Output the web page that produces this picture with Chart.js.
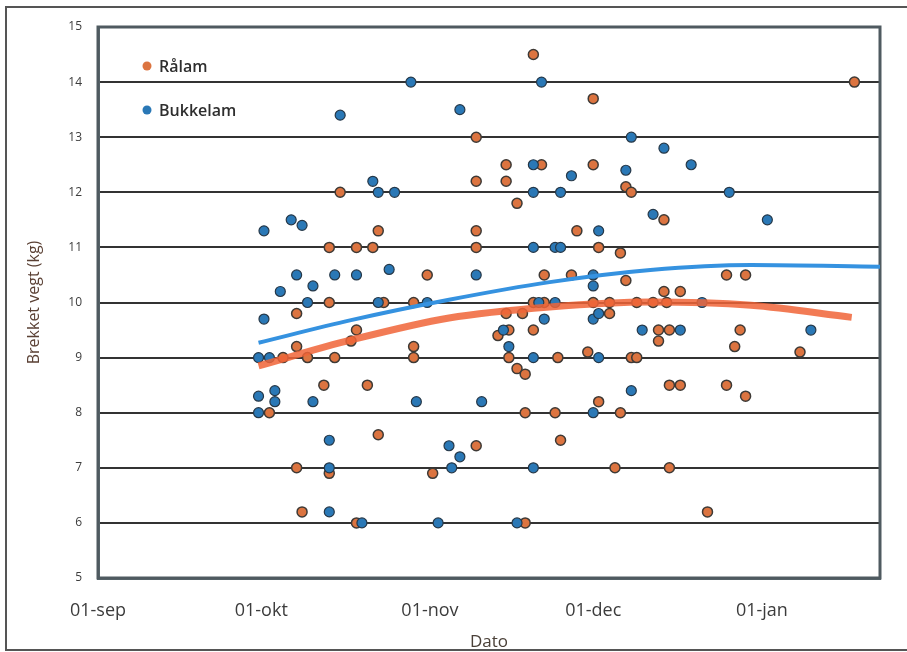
<!DOCTYPE html>
<html>
<head>
<meta charset="utf-8">
<script src="https://cdn.jsdelivr.net/npm/chart.js@4.4.1/dist/chart.umd.min.js"></script>
<style>
    body { margin: 0; background: #fff; }
    #wrap { position: relative; width: 907px; height: 652px; }
    #frame { position: absolute; left: 5px; top: 6px; right: -3px; bottom: 1px; border: 2px solid #555; }
    canvas { position: absolute; left: 0; top: 0; }
</style>
</head>
<body>
<div id="wrap">
    <div id="frame"></div>
    <canvas id="lamChart"></canvas>
</div>
<script>
// === DATA (x = days after 01-sep) ===
const ralamDays = [80, 91, 139, 69.5, 44.5, 75, 81.5, 91, 69.5, 75,
    97, 98, 77, 104, 51.5, 69.5, 88, 42.5, 47.5, 50.5,
    69.5, 92, 96, 60.5, 82, 87, 97, 115.5, 119, 104,
    107, 36.5, 42.5, 52.5, 58, 80, 82, 91, 94, 99,
    102, 104.5, 75, 78, 94, 47.5, 46.5, 36.5, 58, 34,
    38.5, 43.5, 58, 73.5, 75.5, 80, 75.5, 84.5, 90, 98,
    99, 103, 105, 103, 118, 117, 129, 77, 78.5, 41.5,
    49.5, 92, 105, 107, 115.5, 119, 31.5, 78.5, 84, 96,
    51.5, 69.5, 85, 36.5, 42.5, 61.5, 95, 105, 37.5, 112,
    47.5, 78.5];
const ralamKg = [14.5, 13.7, 14.0, 13.0, 12.0, 12.5, 12.5, 12.5, 12.2, 12.2,
    12.1, 12.0, 11.8, 11.5, 11.3, 11.3, 11.3, 11.0, 11.0, 11.0,
    11.0, 11.0, 10.9, 10.5, 10.5, 10.5, 10.4, 10.5, 10.5, 10.2,
    10.2, 9.8, 10.0, 10.0, 10.0, 10.0, 10.0, 10.0, 10.0, 10.0,
    10.0, 10.0, 9.8, 9.8, 9.8, 9.5, 9.3, 9.2, 9.2, 9.0,
    9.0, 9.0, 9.0, 9.4, 9.5, 9.5, 9.0, 9.0, 9.1, 9.0,
    9.0, 9.5, 9.5, 9.3, 9.5, 9.2, 9.1, 8.8, 8.7, 8.5,
    8.5, 8.2, 8.5, 8.5, 8.5, 8.3, 8.0, 8.0, 8.0, 8.0,
    7.6, 7.4, 7.5, 7.0, 6.9, 6.9, 7.0, 7.0, 6.2, 6.2,
    6.0, 6.0];

const bukkDays = [57.5, 81.5, 44.5, 66.5, 98, 104, 109, 50.5, 51.5, 54.5,
    80, 97, 87, 80, 85, 116, 35.5, 37.5, 30.5, 102,
    123, 92, 80, 84, 85, 36.5, 43.5, 47.5, 53.5, 39.5,
    33.5, 69.5, 91, 91, 38.5, 51.5, 60.5, 81, 84, 111,
    30.5, 82, 91, 92, 74.5, 75.5, 100, 107, 131, 29.5,
    31.5, 80, 92, 29.5, 32.5, 32.5, 39.5, 58.5, 70.5, 98,
    29.5, 91, 42.5, 64.5, 66.5, 65, 42.5, 80, 42.5, 48.5,
    62.5, 77];
const bukkKg = [14.0, 14.0, 13.4, 13.5, 13.0, 12.8, 12.5, 12.2, 12.0, 12.0,
    12.5, 12.4, 12.3, 12.0, 12.0, 12.0, 11.5, 11.4, 11.3, 11.6,
    11.5, 11.3, 11.0, 11.0, 11.0, 10.5, 10.5, 10.5, 10.6, 10.3,
    10.2, 10.5, 10.5, 10.3, 10.0, 10.0, 10.0, 10.0, 10.0, 10.0,
    9.7, 9.7, 9.7, 9.8, 9.5, 9.2, 9.5, 9.5, 9.5, 9.0,
    9.0, 9.0, 9.0, 8.3, 8.4, 8.2, 8.2, 8.2, 8.2, 8.4,
    8.0, 8.0, 7.5, 7.4, 7.2, 7.0, 7.0, 7.0, 6.2, 6.0,
    6.0, 6.0];

// trend lines
const ralamTrendDays = [29.5, 46.5, 64.5, 83, 101.5, 120, 138.5];
const ralamTrendKg = [8.85, 9.32, 9.72, 9.92, 10.01, 9.95, 9.73];
const bukkTrendDays = [29.5, 46.5, 64.5, 83, 101.5, 120, 143.7];
const bukkTrendKg = [9.27, 9.68, 10.05, 10.37, 10.59, 10.68, 10.65];

// axes
const tickDays = [0, 30, 61, 91, 122];
const tickLabels = ["01-sep", "01-okt", "01-nov", "01-dec", "01-jan"];
const yMin = 5, yMax = 15;

const ORANGE = "#dc7440";
const BLUE = "#2a78b6";
const FONT = "'Open Sans', 'DejaVu Sans', sans-serif";

function toPoints(xs, ys) {
    return xs.map((x, i) => ({ x: x, y: ys[i] }));
}

// plot frame + legend inside the plot
const framePlugin = {
    id: "framePlugin",
    beforeDatasetsDraw(chart) {
        const a = chart.chartArea;
        const c = chart.ctx;
        c.save();
        c.strokeStyle = "#4f5a60";
        c.lineWidth = 3;
        c.strokeRect(a.left, a.top, a.right - a.left, a.bottom - a.top);
        c.restore();
    },
    afterDraw(chart) {
        const c = chart.ctx;
        const items = [["Rålam", ORANGE, 66], ["Bukkelam", BLUE, 110]];
        c.save();
        items.forEach(([txt, col, y]) => {
            c.fillStyle = col;
            c.beginPath();
            c.arc(147, y, 4.5, 0, Math.PI * 2);
            c.fill();
            c.fillStyle = "#2e2e2e";
            c.font = "600 16px " + FONT;
            c.textBaseline = "middle";
            c.fillText(txt, 159, y + 1);
        });
        c.restore();
    }
};

const ctx = document.getElementById("lamChart").getContext("2d");

const chart = new Chart(ctx, {
    type: "scatter",
    data: {
        datasets: [{
            label: "Trend Bukkelam",
            type: "line",
            data: toPoints(bukkTrendDays, bukkTrendKg),
            borderColor: "#3592e0",
            borderWidth: 4,
            pointRadius: 0,
            cubicInterpolationMode: "monotone",
            fill: false
        }, {
            label: "Trend Rålam",
            type: "line",
            data: toPoints(ralamTrendDays, ralamTrendKg),
            borderColor: "rgba(240,100,55,0.85)",
            borderWidth: 7,
            pointRadius: 0,
            cubicInterpolationMode: "monotone",
            fill: false
        }, {
            label: "Bukkelam",
            data: toPoints(bukkDays, bukkKg),
            backgroundColor: BLUE,
            borderColor: "#263848",
            borderWidth: 1.2,
            pointRadius: 5
        }, {
            label: "Rålam",
            data: toPoints(ralamDays, ralamKg),
            backgroundColor: ORANGE,
            borderColor: "#3e3a36",
            borderWidth: 1.5,
            pointRadius: 5
        }]
    },
    options: {
        responsive: true,
        maintainAspectRatio: false,
        animation: false,
        layout: { padding: { left: 0, right: 27, top: 27, bottom: 0 } },
        plugins: {
            legend: { display: false },
            tooltip: { enabled: false }
        },
        scales: {
            x: {
                type: "linear",
                min: 0,
                max: 143.7,
                afterBuildTicks: (s) => { s.ticks = tickDays.map(v => ({ value: v })); },
                afterFit: (s) => { s.height = 74; },
                grid: { display: false },
                border: { display: true, color: "#5c6a70", width: 3 },
                ticks: {
                    padding: 14,
                    color: "#3c3c3c",
                    font: { family: FONT, size: 18 },
                    callback: (v) => {
                        const i = tickDays.indexOf(v);
                        return i >= 0 ? tickLabels[i] : "";
                    }
                },
                title: {
                    display: true,
                    text: "Dato",
                    color: "#4a4038",
                    font: { family: FONT, size: 17 },
                    padding: { top: 0, bottom: 0 }
                }
            },
            y: {
                min: yMin,
                max: yMax,
                afterFit: (s) => { s.width = 98; },
                grid: { color: "#333", lineWidth: 2, drawTicks: false },
                border: { display: true, color: "#5c6a70", width: 3 },
                ticks: {
                    stepSize: 1,
                    padding: 16,
                    color: "#3c3c3c",
                    font: { family: FONT, size: 12 }
                },
                title: {
                    display: true,
                    text: "Brekket vegt (kg)",
                    color: "#5a4034",
                    font: { family: FONT, size: 16 },
                    padding: { top: 25, bottom: 0 }
                }
            }
        }
    },
    plugins: [framePlugin]
});
</script>
</body>
</html>
